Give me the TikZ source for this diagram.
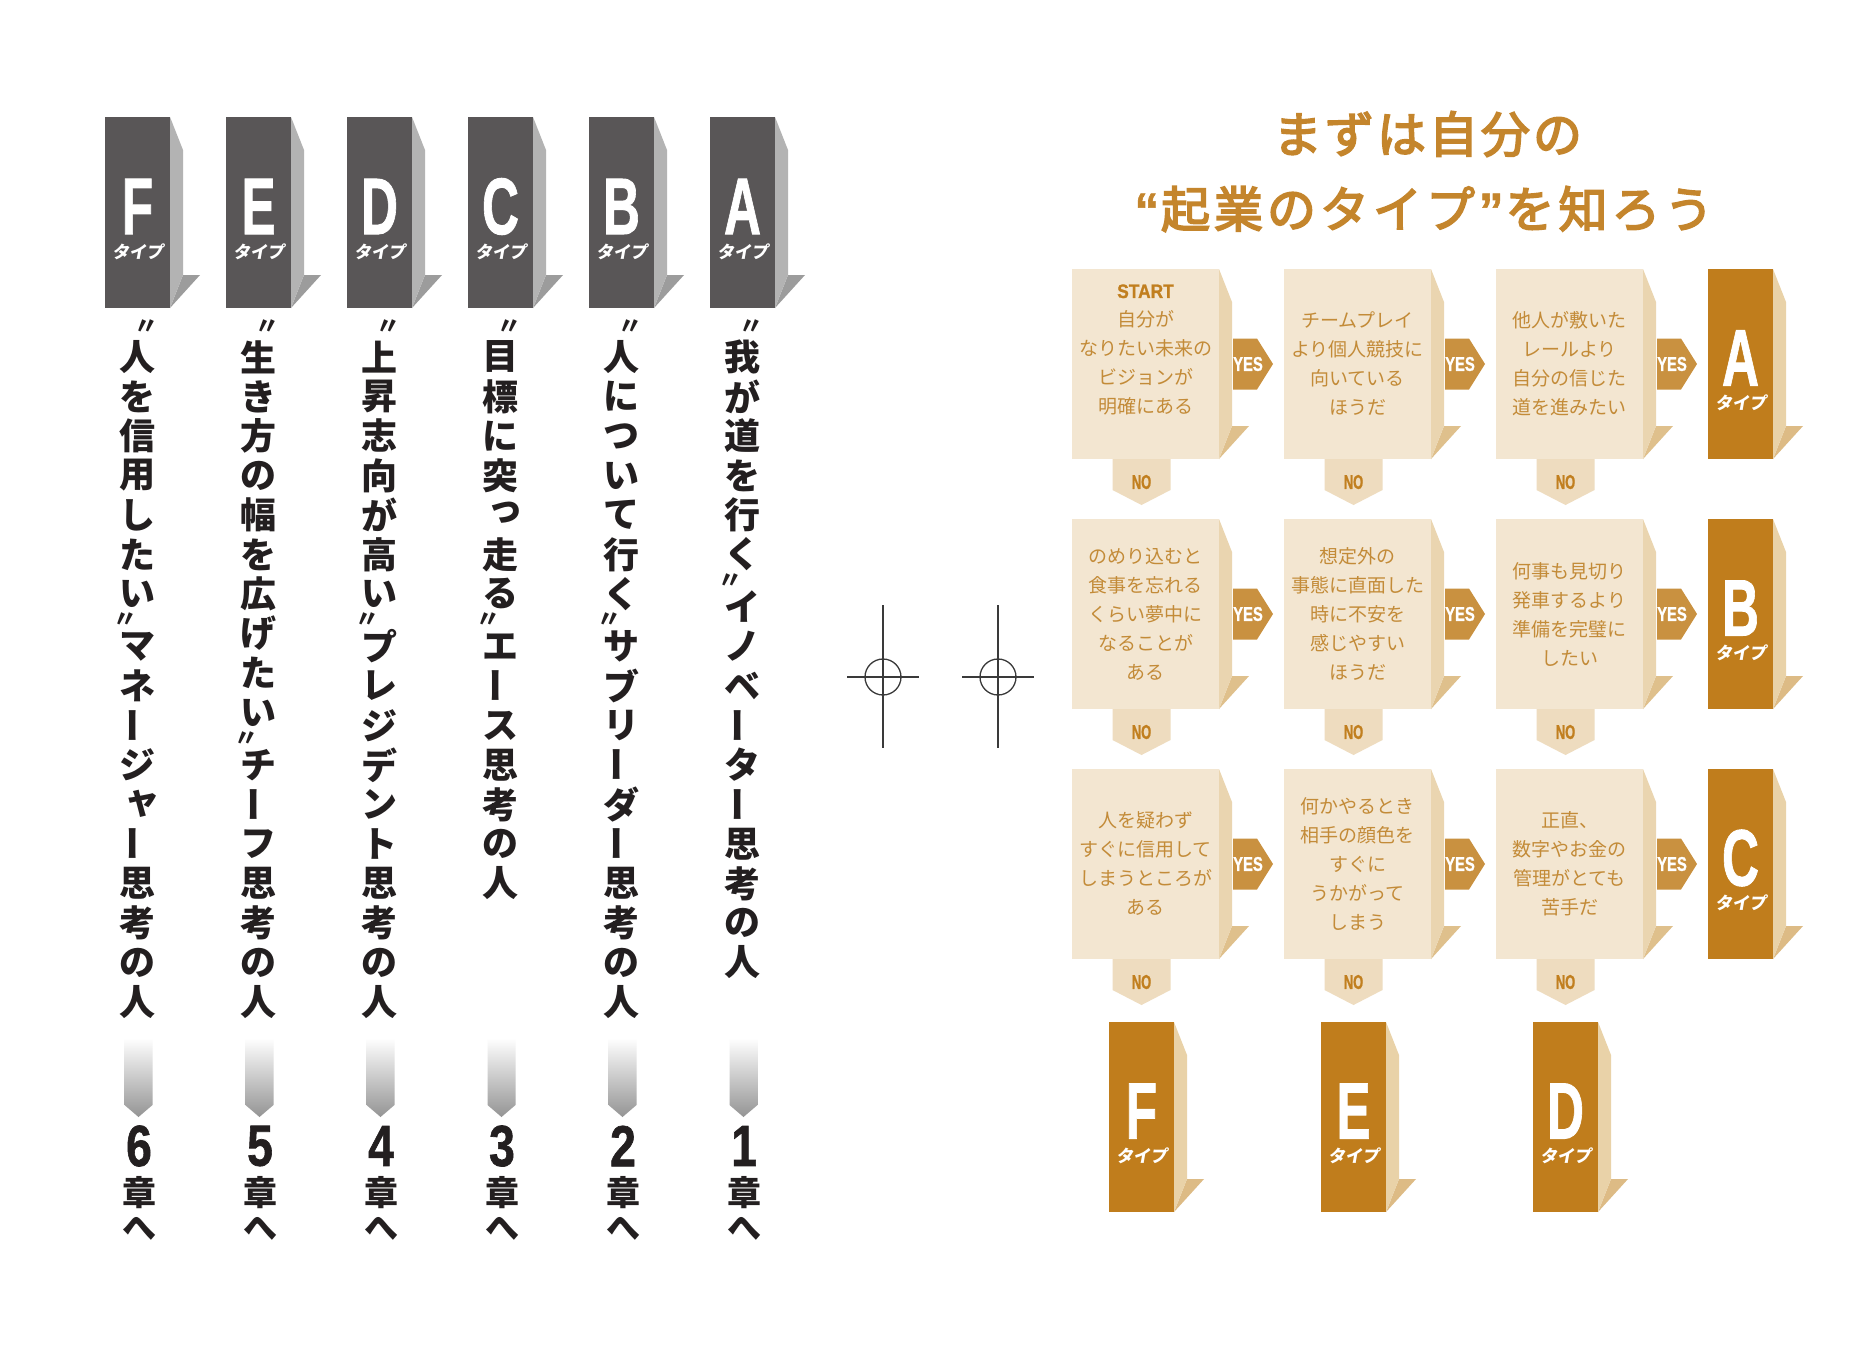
\documentclass[tikz,border=0pt]{standalone}
\usepackage{fontspec}
\usepackage{graphicx}
\usetikzlibrary{calc}
\setmainfont{Liberation Sans}
\newfontfamily\jp{Noto Sans CJK JP}
\newfontfamily\jpm{Noto Sans CJK JP}[FakeBold=3.5]
\newfontfamily\jpsl{Noto Sans CJK JP}[FakeSlant=0.18]
\newfontfamily\heavy{Liberation Sans}[FakeBold=1.2]
\vfuzz=200pt \hfuzz=200pt \vbadness=10000 \hbadness=10000

\definecolor{gfront}{HTML}{595657}
\definecolor{gside}{HTML}{B3B3B3}
\definecolor{gshadow}{HTML}{9C9C9C}
\definecolor{ofront}{HTML}{C07D1C}
\definecolor{oside}{HTML}{E9D2A8}
\definecolor{oshadow}{HTML}{DDBB85}
\definecolor{qfront}{HTML}{F3E6D1}
\definecolor{qside}{HTML}{EAD5B0}
\definecolor{qshadow}{HTML}{DFC08C}
\definecolor{yescol}{HTML}{C99140}
\definecolor{nocol}{HTML}{EEDCBF}
\definecolor{gold}{HTML}{C17F1F}
\definecolor{qtextcol}{HTML}{C38B38}
\definecolor{titlecol}{HTML}{C4852C}
\definecolor{ink}{HTML}{231F20}
\definecolor{regcol}{HTML}{3A3A3A}

\ExplSyntaxOn
\NewDocumentCommand\vstack{m}{\tl_map_function:nN {#1} \vslot}
\NewDocumentCommand\spaced{mm}{\tl_map_inline:nn {#2} {##1\kern #1pt}}
\ExplSyntaxOff

\def\vcho{ー}\def\vopen{〝}\def\vclose{〟}\def\vsya{ャ}\def\vtsu{っ}
\newlength\vpitch \setlength\vpitch{39.5pt}
\newcommand\vmark{{\fontsize{24}{24}\selectfont 〃}}
\newcommand\vslot[1]{\def\vtmp{#1}%
 \ifx\vtmp\vopen
   \vbox to 21pt{\vss\hbox to 44pt{\hss\kern18pt\vmark\hss}\vss}%
 \else\ifx\vtmp\vclose
   \vbox to 13pt{\vss\hbox to 44pt{\hss\vmark\kern24pt\hss}\vss}%
 \else\ifx\vtmp\vcho
   \vbox to \vpitch{\vss\hbox to 44pt{\hss\rotatebox[origin=c]{90}{ー}\hss}\vss}%
 \else\ifx\vtmp\vsya
   \vbox to \vpitch{\vss\hbox to 44pt{\hss\kern10pt\raisebox{6pt}{ャ}\hss}\vss}%
 \else\ifx\vtmp\vtsu
   \vbox to \vpitch{\vss\hbox to 44pt{\hss\kern10pt\raisebox{6pt}{っ}\hss}\vss}%
 \else
   \vbox to \vpitch{\vss\hbox to 44pt{\hss#1\hss}\vss}%
 \fi\fi\fi\fi\fi}

\tikzset{
 qtext/.style={font=\jp\fontsize{19}{29}\selectfont, text=qtextcol, align=center, inner sep=0},
 bigletter/.style={font=\heavy\bfseries\fontsize{80}{80}\selectfont, text=white, inner sep=0},
 typelabel/.style={font=\jpsl\bfseries\fontsize{17}{17}\selectfont, text=white, inner sep=0},
 yestext/.style={font=\heavy\bfseries\fontsize{20}{20}\selectfont, text=white, inner sep=0},
 notext/.style={font=\heavy\bfseries\fontsize{20}{20}\selectfont, text=gold, inner sep=0},
 vcol/.style={anchor=north, inner sep=0, font=\jp\bfseries\fontsize{36}{36}\selectfont, text=ink},
 chnum/.style={font=\heavy\bfseries\fontsize{58}{58}\selectfont, text=ink, inner sep=0},
 chjp/.style={font=\jp\bfseries\fontsize{34}{34}\selectfont, text=ink, inner sep=0},
 titletext/.style={font=\jpm\fontsize{49}{49}\selectfont, text=titlecol, inner sep=0},
 regline/.style={draw=regcol, line width=1.3pt},
}

% #1 name, #2 x, #3 y, #4 w, #5 h, #6 front, #7 side, #8 shadow
\newcommand\block[8]{%
 \node[fill=#6, minimum width=#4, minimum height=#5, inner sep=0, outer sep=0, anchor=north west] (#1) at (#2,#3) {};
 \fill[#8] (#1.south east) -- ($(#1.south east)+(13,-33)$) -- ($(#1.south east)+(30,-33)$) -- cycle;
 \fill[#7] (#1.north east) -- ++(13,33) -- ($(#1.south east)+(13,-33)$) -- (#1.south east) -- cycle;
}
\newcommand\typetag[2]{%
 \node[bigletter] (#1-l) at ($(#1.center)+(0,-6)$) {\scalebox{0.64}[1]{#2}};
 \node[typelabel] (#1-t) at ($(#1.center)+(0,39)$) {タイプ};
}
\newcommand\yesarrow[2]{%
 \coordinate (#1-s) at ($(#2.east)+(14,0)$);
 \fill[yescol] ($(#1-s)+(0,-25.5)$) -- ++(24,0) -- ++(16,25.5) -- ++(-16,25.5) -- ++(-24,0) -- cycle;
 \node[yestext] (#1) at ($(#1-s)+(15,0)$) {\scalebox{0.74}[1]{YES}};
}
\newcommand\noarrow[2]{%
 \coordinate (#1-s) at ($(#2.south)+(-4,0)$);
 \fill[nocol] ($(#1-s)+(-29,0)$) -- ++(58,0) -- ++(0,31) -- ++(-29,15) -- ++(-29,-15) -- cycle;
 \node[notext] (#1) at ($(#1-s)+(0,23)$) {\scalebox{0.65}[1]{NO}};
}
\newcommand\gradarrow[2]{%
 \coordinate (#1) at (#2,1038);
 \shade[top color=white, bottom color=black!42] ($(#1)+(-14,0)$) -- ++(28,0) -- ++(0,67) -- ++(-14,12) -- ++(-14,-12) -- cycle;
}
\newcommand\chapmark[3]{%
 \node[chnum] (#1-n) at (#2,1146) {\scalebox{0.8}[1]{#3}};
 \node[chjp] (#1-a) at (#2,1193) {章};
 \node[chjp] (#1-b) at (#2,1229) {へ};
}

\begin{document}
\begin{tikzpicture}[x=1pt,y=-1pt]
\fill[white] (0,0) rectangle (1861,1350);
\useasboundingbox (0,0) rectangle (1861,1350);

% ---------- left: gray pillars ----------
\block{gF}{105}{117}{65}{191}{gfront}{gside}{gshadow}\typetag{gF}{F}
\block{gE}{226}{117}{65}{191}{gfront}{gside}{gshadow}\typetag{gE}{E}
\block{gD}{347}{117}{65}{191}{gfront}{gside}{gshadow}\typetag{gD}{D}
\block{gC}{468}{117}{65}{191}{gfront}{gside}{gshadow}\typetag{gC}{C}
\block{gB}{589}{117}{65}{191}{gfront}{gside}{gshadow}\typetag{gB}{B}
\block{gA}{710}{117}{65}{191}{gfront}{gside}{gshadow}\typetag{gA}{A}

\node[vcol] (tF) at (137.5,316) {\vbox{\offinterlineskip\vstack{〝人を信用したい〟マネージャー思考の人}}};
\node[vcol] (tE) at (258.5,316) {\vbox{\offinterlineskip\vstack{〝生き方の幅を広げたい〟チーフ思考の人}}};
\node[vcol] (tD) at (379.5,316) {\vbox{\offinterlineskip\vstack{〝上昇志向が高い〟プレジデント思考の人}}};
\node[vcol] (tC) at (500.5,316) {\vbox{\offinterlineskip\vstack{〝目標に突っ走る〟エース思考の人}}};
\node[vcol] (tB) at (621.5,316) {\vbox{\offinterlineskip\vstack{〝人について行く〟サブリーダー思考の人}}};
\node[vcol] (tA) at (742.5,316) {\vbox{\offinterlineskip\vstack{〝我が道を行く〟イノベーター思考の人}}};

\gradarrow{aF}{138.5}\gradarrow{aE}{259.5}\gradarrow{aD}{380.5}
\gradarrow{aC}{501.5}\gradarrow{aB}{622.5}\gradarrow{aA}{743.5}

\chapmark{cF}{139}{6}\chapmark{cE}{260}{5}\chapmark{cD}{381}{4}
\chapmark{cC}{502}{3}\chapmark{cB}{623}{2}\chapmark{cA}{744}{1}

% ---------- registration marks ----------
\coordinate (rm1) at (883,677);
\coordinate (rm2) at (998,677);
\foreach \r in {rm1,rm2}{
 \draw[regline] (\r) ++(0,-72) -- ++(0,143);
 \draw[regline] (\r) ++(-36,0) -- ++(72,0);
 \draw[regline] (\r) circle[radius=18pt];
}

% ---------- title ----------
\node[titletext] (title1) at (1429,134) {\spaced{3}{まずは自分の}};
\node[titletext] (title2) at (1426,209) {{\heavy\bfseries “}\kern2pt\spaced{4}{起業のタイプ}{\heavy\bfseries ”}\kern2pt\spaced{4}{を知ろう}};

% ---------- question boxes ----------
\block{q11}{1072}{269}{147}{190}{qfront}{qside}{qshadow}
\block{q12}{1284}{269}{147}{190}{qfront}{qside}{qshadow}
\block{q13}{1496}{269}{147}{190}{qfront}{qside}{qshadow}
\block{q21}{1072}{519}{147}{190}{qfront}{qside}{qshadow}
\block{q22}{1284}{519}{147}{190}{qfront}{qside}{qshadow}
\block{q23}{1496}{519}{147}{190}{qfront}{qside}{qshadow}
\block{q31}{1072}{769}{147}{190}{qfront}{qside}{qshadow}
\block{q32}{1284}{769}{147}{190}{qfront}{qside}{qshadow}
\block{q33}{1496}{769}{147}{190}{qfront}{qside}{qshadow}

\node[qtext] (q11t) at ($(q11.center)+(0,-14)$) {{\heavy\bfseries\color{gold}\fontsize{19.5}{29}\selectfont\scalebox{0.89}[1]{START}}\\自分が\\なりたい未来の\\ビジョンが\\明確にある};
\node[qtext] (q12t) at (q12.center) {チームプレイ\\より個人競技に\\向いている\\ほうだ};
\node[qtext] (q13t) at (q13.center) {他人が敷いた\\レールより\\自分の信じた\\道を進みたい};
\node[qtext] (q21t) at (q21.center) {のめり込むと\\食事を忘れる\\くらい夢中に\\なることが\\ある};
\node[qtext] (q22t) at (q22.center) {想定外の\\事態に直面した\\時に不安を\\感じやすい\\ほうだ};
\node[qtext] (q23t) at (q23.center) {何事も見切り\\発車するより\\準備を完璧に\\したい};
\node[qtext] (q31t) at (q31.center) {人を疑わず\\すぐに信用して\\しまうところが\\ある};
\node[qtext] (q32t) at (q32.center) {何かやるとき\\相手の顔色を\\すぐに\\うかがって\\しまう};
\node[qtext] (q33t) at (q33.center) {正直、\\数字やお金の\\管理がとても\\苦手だ};

% ---------- type boxes ----------
\block{oA}{1708}{269}{65}{190}{ofront}{oside}{oshadow}\typetag{oA}{A}
\block{oB}{1708}{519}{65}{190}{ofront}{oside}{oshadow}\typetag{oB}{B}
\block{oC}{1708}{769}{65}{190}{ofront}{oside}{oshadow}\typetag{oC}{C}
\block{oF}{1109}{1022}{65}{190}{ofront}{oside}{oshadow}\typetag{oF}{F}
\block{oE}{1321}{1022}{65}{190}{ofront}{oside}{oshadow}\typetag{oE}{E}
\block{oD}{1533}{1022}{65}{190}{ofront}{oside}{oshadow}\typetag{oD}{D}

% ---------- YES / NO arrows ----------
\yesarrow{y11}{q11}\yesarrow{y12}{q12}\yesarrow{y13}{q13}
\yesarrow{y21}{q21}\yesarrow{y22}{q22}\yesarrow{y23}{q23}
\yesarrow{y31}{q31}\yesarrow{y32}{q32}\yesarrow{y33}{q33}
\noarrow{n11}{q11}\noarrow{n12}{q12}\noarrow{n13}{q13}
\noarrow{n21}{q21}\noarrow{n22}{q22}\noarrow{n23}{q23}
\noarrow{n31}{q31}\noarrow{n32}{q32}\noarrow{n33}{q33}
\end{tikzpicture}
\end{document}
